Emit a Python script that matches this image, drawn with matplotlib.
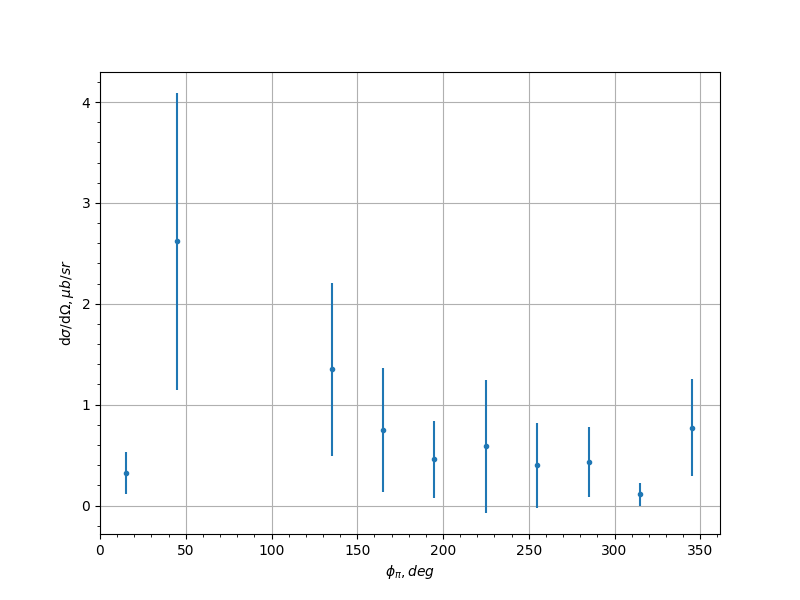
import matplotlib
matplotlib.use('Agg')
import matplotlib.pyplot as plt
import numpy as np

phi = [15, 45, 135, 165, 195, 225, 255, 285, 315, 345]
xsec = [0.32, 2.62, 1.35, 0.745, 0.457, 0.586, 0.40, 0.43, 0.11, 0.77]
err = [0.21, 1.47, 0.86, 0.615, 0.385, 0.66, 0.42, 0.345, 0.11, 0.48]

fig, ax = plt.subplots(figsize=(8, 6), dpi=100)
ax.errorbar(phi, xsec, yerr=err, fmt='.')
ax.set_xlim(left=0)
ax.set_xlabel(r'$\phi_\pi, deg$')
ax.set_ylabel(r'd$\sigma$/d$\Omega, \mu b/sr$')
ax.minorticks_on()
ax.grid(True)
fig.savefig('out.png')
